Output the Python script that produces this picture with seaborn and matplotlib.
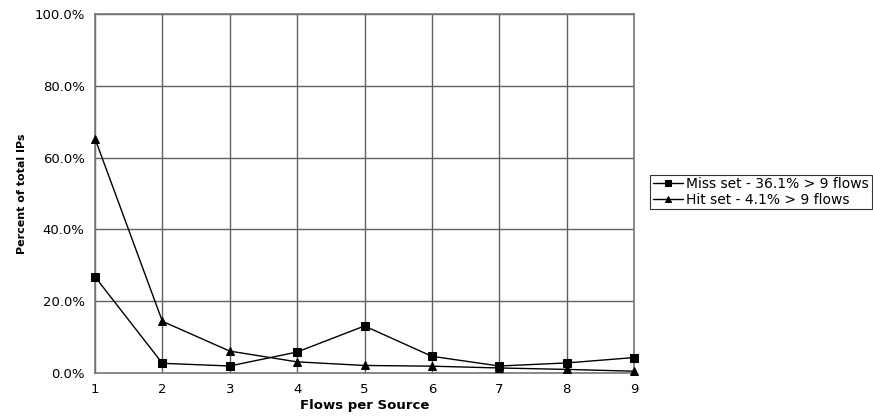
import matplotlib
matplotlib.use("Agg")
import matplotlib.pyplot as plt
import seaborn as sns
import pandas as pd
from matplotlib.ticker import FuncFormatter

flows = [1, 2, 3, 4, 5, 6, 7, 8, 9]
miss_set = [26.8, 2.7, 1.95, 5.85, 13.1, 4.65, 1.95, 2.8, 4.3]
hit_set = [65.3, 14.4, 6.1, 3.1, 2.1, 1.9, 1.4, 1.0, 0.5]
series_names = ["Miss set - 36.1% > 9 flows", "Hit set - 4.1% > 9 flows"]

df = pd.DataFrame({
    "Flows": flows * 2,
    "Percent": miss_set + hit_set,
    "Series": [series_names[0]] * len(flows) + [series_names[1]] * len(flows),
})

sns.set_style("white")
plt.rcParams['font.family'] = ['DejaVu Sans']
plt.rcParams['text.color'] = 'black'
plt.rcParams['axes.labelcolor'] = 'black'
plt.rcParams['xtick.color'] = 'black'
plt.rcParams['ytick.color'] = 'black'

fig = plt.figure(figsize=(8.73, 4.16), dpi=100)
ax = fig.add_axes([95/873, 1-373/416, (634-95)/873, (373-14)/416])

sns.lineplot(data=df, x="Flows", y="Percent", hue="Series", style="Series",
             palette=["black", "black"], markers={series_names[0]: "s", series_names[1]: "^"},
             dashes=False, markersize=6, linewidth=1.0, markeredgecolor="black",
             ax=ax, legend=True)
for ln in ax.get_lines():
    ln.set_clip_on(False)
    ln.set_zorder(5)

ax.set_xlim(1, 9)
ax.set_ylim(0, 100)
ax.set_xticks(flows)
ax.set_yticks([0, 20, 40, 60, 80, 100])
ax.yaxis.set_major_formatter(FuncFormatter(lambda v, p: f"{v:.1f}%"))
ax.grid(True, color="#606060", linewidth=1.0)
ax.set_axisbelow(True)
for s in ax.spines.values():
    s.set_color("#777777")
    s.set_linewidth(1.2)
ax.tick_params(axis="both", which="major", labelsize=9.5, length=4, width=1,
               color="#555555", labelcolor="black", direction="out")
ax.tick_params(axis="x", pad=3)
ax.set_xlabel("Flows per Source", fontsize=9.5, fontweight="bold", labelpad=2)
ax.set_ylabel("Percent of total IPs", fontsize=8, fontweight="bold", labelpad=5)

handles, labels = ax.get_legend_handles_labels()
leg = ax.legend(handles, labels, loc="center left", bbox_to_anchor=(650/873, 1-192/416),
                bbox_transform=fig.transFigure, fontsize=10, frameon=True, fancybox=False,
                edgecolor="black", handlelength=2.2, handletextpad=0.2, borderpad=0.2,
                labelspacing=0.1, borderaxespad=0)
leg.get_frame().set_linewidth(0.8)
for h in leg.legend_handles:
    h.set_markersize(5)

fig.savefig("out.png", dpi=100)
